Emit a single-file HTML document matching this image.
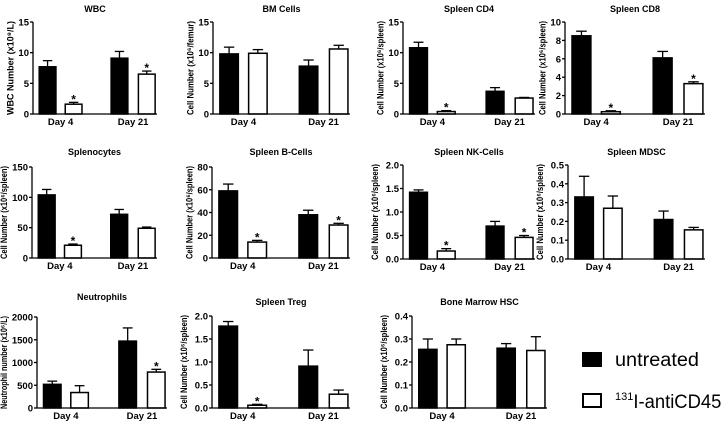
<!DOCTYPE html>
<html><head><meta charset="utf-8"><style>
html,body{margin:0;padding:0;background:#fff;}
svg{display:block;font-family:"Liberation Sans",Arial,sans-serif;}
</style></head><body>
<svg id="fig" width="728" height="424" viewBox="0 0 728 424" xmlns="http://www.w3.org/2000/svg">
<g>
<rect x="582" y="352" width="20" height="15" fill="#000"/>
<text x="615" y="366" font-size="19" textLength="84" lengthAdjust="spacingAndGlyphs">untreated</text>
<rect x="583" y="394" width="18" height="13" fill="#fff" stroke="#000" stroke-width="2"/>
<text x="615" y="408" font-size="19"><tspan font-size="11" dy="-8">131</tspan><tspan dy="8" textLength="88" lengthAdjust="spacingAndGlyphs">I-antiCD45</tspan></text>
</g>
</svg>
<script>
const panelTitles=["WBC","BM Cells","Spleen CD4","Spleen CD8","Splenocytes","Spleen B-Cells","Spleen NK-Cells","Spleen MDSC","Neutrophils","Spleen Treg","Bone Marrow HSC"];
const yTitles=["WBC Number (x10⁹/L)","Cell Number (x10⁶/femur)","Cell Number (x10⁶/spleen)","Cell Number (x10⁶/spleen)","Cell Number (x10⁶/spleen)","Cell Number (x10⁶/spleen)","Cell Number (x10⁶/spleen)","Cell Number (x10⁶/spleen)","Neutrophil number (x10⁶/L)","Cell Number (x10⁶/spleen)","Cell Number (x10⁶/spleen)"];
const categories=["Day 4","Day 21"];
const untreatedMean=[[7.7,9.1],[9.8,7.8],[10.8,3.7],[8.5,6.1],[104,72],[59,38],[1.42,0.70],[0.33,0.21],[520,1470],[1.78,0.91],[0.255,0.26]];
const untreatedErr=[[1.0,1.1],[1.1,1.0],[0.9,0.6],[0.5,0.7],[9,8],[6,4],[0.05,0.1],[0.11,0.045],[70,290],[0.1,0.35],[0.045,0.02]];
const treatedMean=[[1.6,6.5],[9.9,10.6],[0.4,2.6],[0.25,3.3],[21,49],[14,29],[0.17,0.46],[0.27,0.155],[340,790],[0.06,0.30],[0.275,0.25]];
const treatedErr=[[0.3,0.5],[0.6,0.6],[0.15,0.1],[0.1,0.2],[2,2],[1.5,1.5],[0.05,0.04],[0.065,0.013],[150,60],[0.02,0.09],[0.025,0.06]];
const significant=[[false,true,false,true],[false,false,false,false],[false,true,false,false],[false,true,false,true],[false,true,false,false],[false,true,false,true],[false,true,false,true],[false,false,false,false],[false,false,false,true],[false,true,false,false],[false,false,false,false]];
const yMax=[15,15,15,10,150,80,2.0,0.5,2000,2.0,0.4];
const yStep=[5,5,5,2,50,20,0.5,0.1,500,0.5,0.1];
const tickDecimals=[0,0,0,0,0,0,1,1,0,1,1];
const layout=[[33,157,22,114,12],[213,350,22,114,12],[403,535,22,114,12],[565,705,22,114,12],
[32,157,167,258,155],[212,350,167,258,155],[403,535,165,259,155],[568,705,165,259,155],
[37,167,317,408,300],[212,350,316,408,305],[412,547,316,408,305]];
const NS="http://www.w3.org/2000/svg";
const svg=document.getElementById('fig');
function mk(tag,attrs,parent){const e=document.createElementNS(NS,tag);for(const k in attrs)e.setAttribute(k,attrs[k]);parent.appendChild(e);return e;}
panelTitles.forEach((t,p)=>{
  const [ax,ex,ty,zy,tiy]=layout[p];
  const W=ex-ax;
  const yS=v=>zy-(v/yMax[p])*(zy-ty);
  const g=mk('g',{},svg);
  
  
  const tt=mk('text',{x:(ax+ex)/2,y:tiy,'text-anchor':'middle','font-size':9,'font-weight':'bold'},g);
  tt.textContent=t;
  
  
  const maxChars=yMax[p].toFixed(tickDecimals[p]).length;
  const tx=ax-4-maxChars*5.3-5;
  const yt=mk('text',{x:0,y:0,'text-anchor':'middle','font-size':9.5,'font-weight':'bold',textLength:zy-ty+2,lengthAdjust:'spacingAndGlyphs',transform:`translate(${tx},${(ty+zy)/2}) rotate(-90)`},g);
  yt.textContent=yTitles[p];
  
  
  const bw=W*0.135;
  const offs=[0.05,0.26,0.63,0.85];
  for(let c=0;c<2;c++){
    [[untreatedMean,untreatedErr,'#000'],[treatedMean,treatedErr,'#fff']].forEach((s,si)=>{
      const v=s[0][p][c],e=s[1][p][c];
      const x=ax+W*offs[c*2+si];
      const y=yS(v),ye=yS(v+e);
      const cx=x+bw/2;
      const el=mk('line',{x1:cx,x2:cx,y1:y,y2:ye,stroke:'#000','stroke-width':1.3},g);
      
      
      const cap=mk('line',{x1:cx-bw*0.28,x2:cx+bw*0.28,y1:ye,y2:ye,stroke:'#000','stroke-width':1.3},g);
      
      
      const r=mk('rect',{x:x,y:y,width:bw,height:Math.max(zy-y,0.5),fill:s[2],stroke:'#000','stroke-width':1.5},g);
      
      
      if(significant[p][c*2+si]){
        const st=mk('text',{x:cx,y:ye+1,'text-anchor':'middle','font-size':12,'font-weight':'bold'},g);
        st.textContent='*';
        
        
      }
    });
    const lx=ax+W*(offs[c*2]+offs[c*2+1]+bw/W)/2;
    const cl=mk('text',{x:lx,y:zy+11,'text-anchor':'middle','font-size':9.5,'font-weight':'bold'},g);
    cl.textContent=categories[c];
    
    
  }
  const yax=mk('line',{x1:ax,x2:ax,y1:ty,y2:zy,stroke:'#000','stroke-width':1.3},g);
  
  
  const xax=mk('line',{x1:ax,x2:ex,y1:zy,y2:zy,stroke:'#000','stroke-width':1.3},g);
  
  
  for(let v=0;v<=yMax[p]+1e-9;v+=yStep[p]){
    const y=yS(v);
    const tk=mk('line',{x1:ax-3,x2:ax,y1:y,y2:y,stroke:'#000','stroke-width':1.3},g);
    
    
    const tl=mk('text',{x:ax-4,y:y+3.5,'text-anchor':'end','font-size':9.5,'font-weight':'bold'},g);
    tl.textContent=v.toFixed(tickDecimals[p]);
    
    
  }
});
</script>
</body></html>
